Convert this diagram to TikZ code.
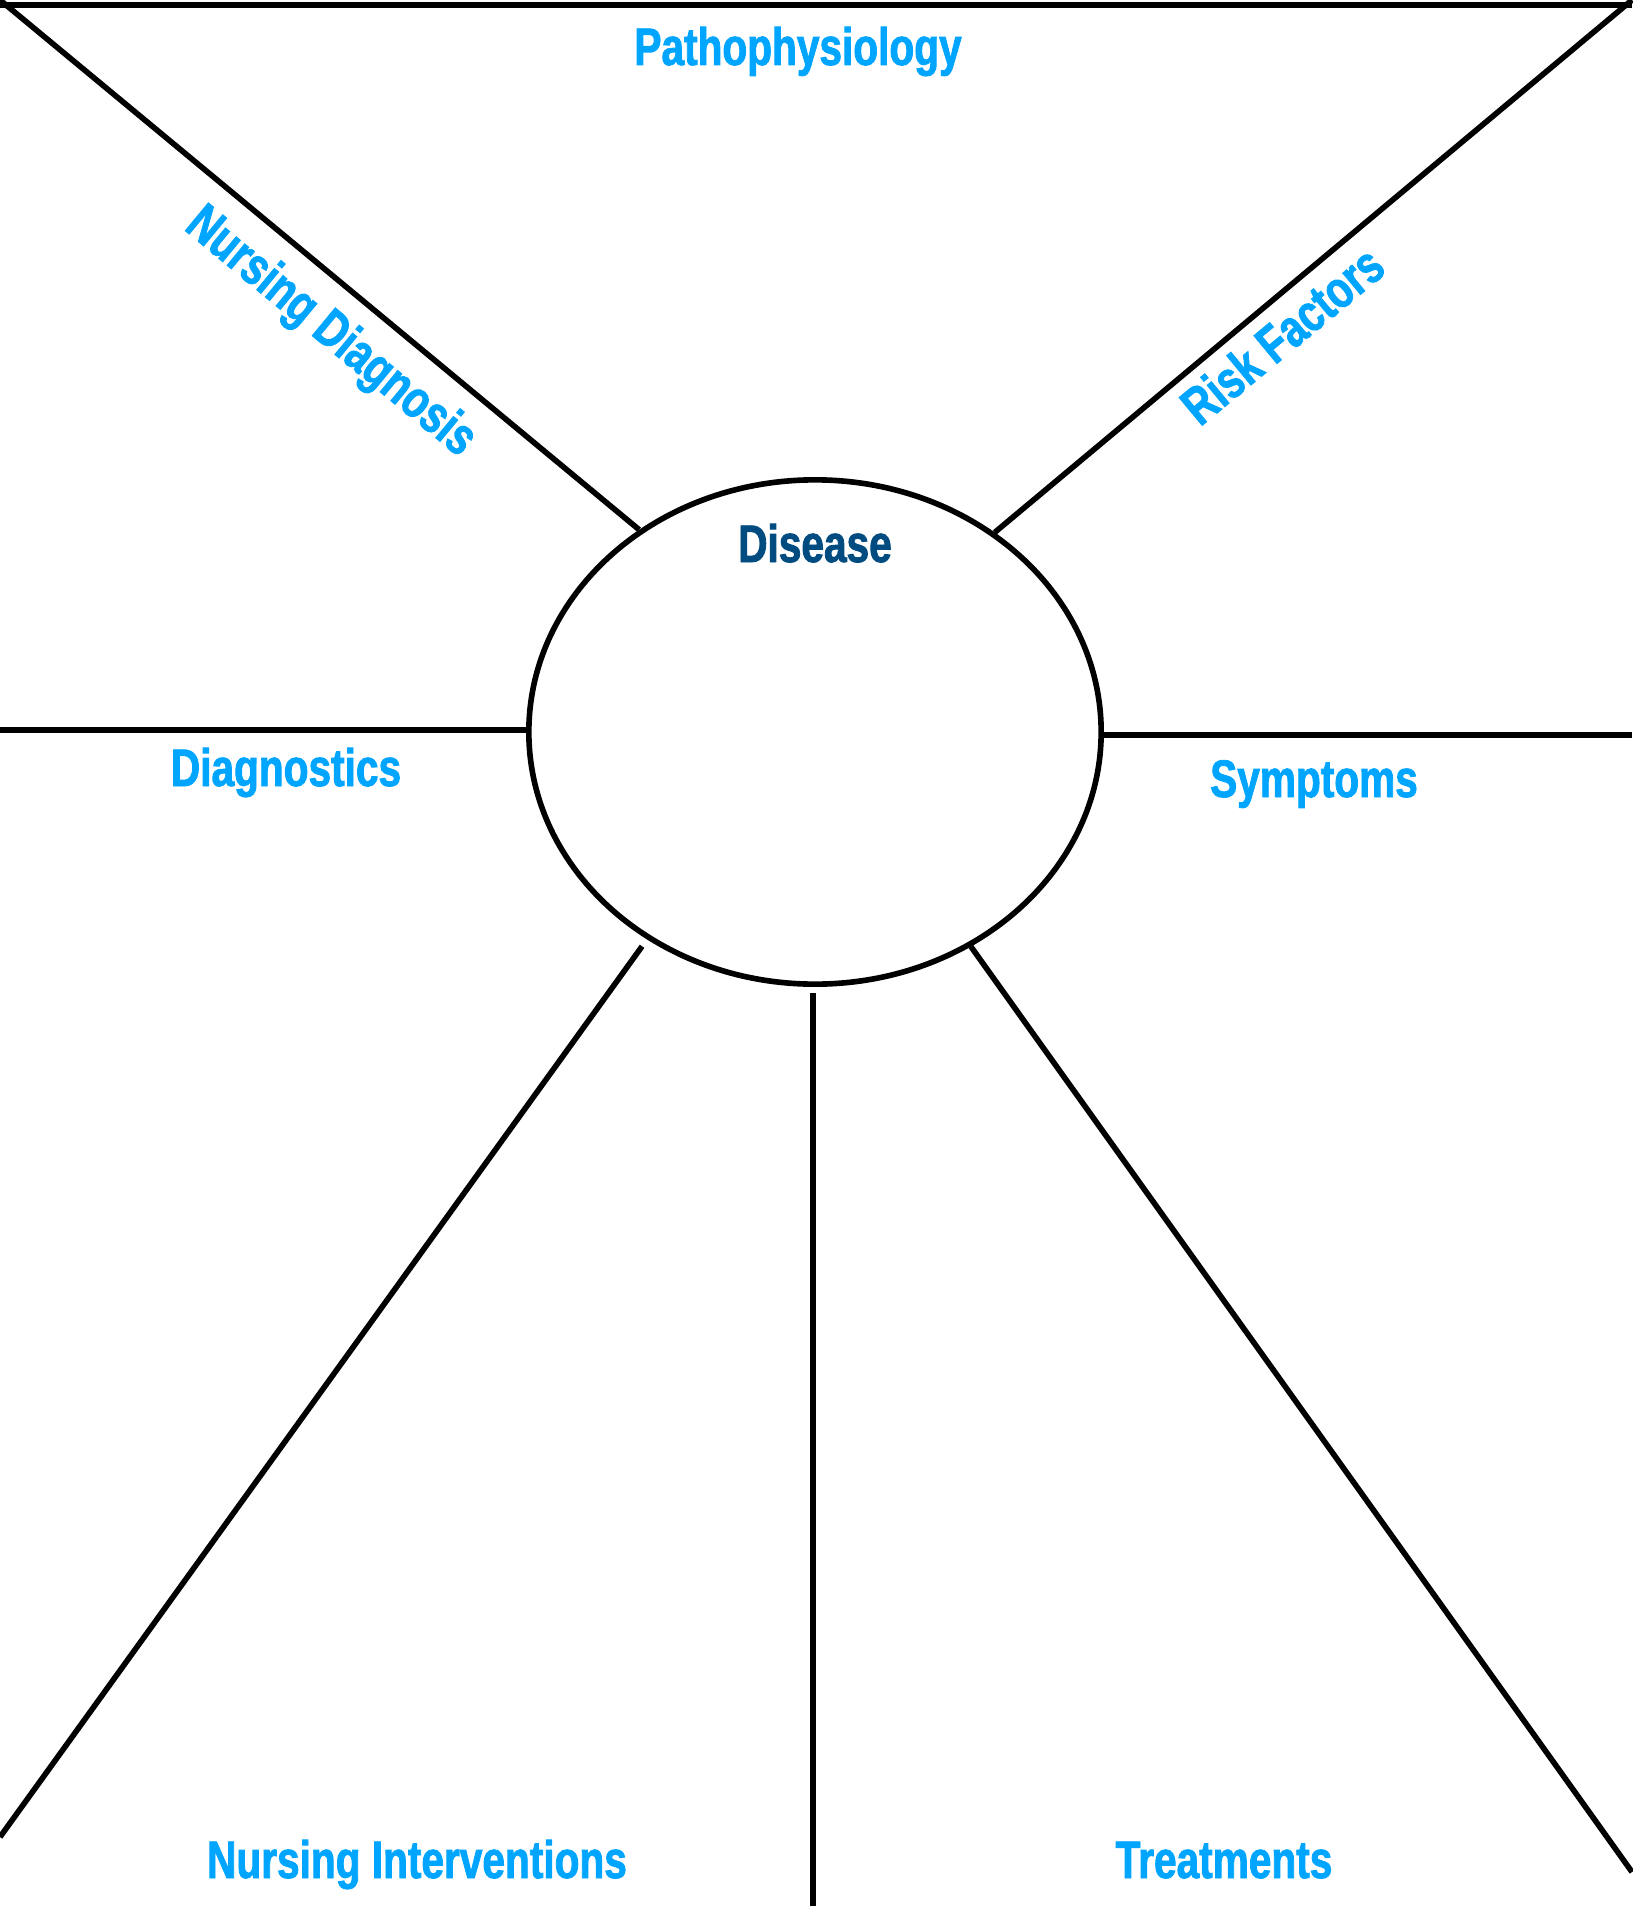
\documentclass[tikz,border=0pt]{standalone}
\usepackage{fontspec}
\setmainfont{Liberation Sans}[FakeStretch=0.77, BoldFeatures={FakeBold=1.6}]
\usetikzlibrary{shapes.geometric, positioning}
\definecolor{headblue}{HTML}{00A5FF}
\definecolor{hubblue}{HTML}{004C80}

\begin{document}
\begin{tikzpicture}[
    x=0.01cm, y=-0.01cm,
    hub/.style={ellipse, draw, line width=1.6pt, minimum width=5.72cm, minimum height=5.04cm, inner sep=0pt},
    spoke/.style={line width=1.6pt},
    heading/.style={text=headblue, font=\bfseries\fontsize{15}{18}\selectfont, inner sep=0pt}
]
\useasboundingbox (0,0) rectangle (1632,1906);

% centre
\node[hub] (disease) at (815,732) {};
\node[heading, text=hubblue, anchor=base] (diseasetext) at (815,562) {Disease};

% free ends of the spokes
\coordinate (topL) at (0,5);
\coordinate (topR) at (1632,5);
\coordinate (cornerL) at (0,0);
\coordinate (cornerR) at (1632,0);
\coordinate (sideL) at (0,730);
\coordinate (sideR) at (1632,735);
\coordinate (footL) at (0,1837);
\coordinate (footM) at (813,1912);
\coordinate (footR) at (1632,1872);

\draw[spoke] (topL) -- (topR);
\draw[spoke] (disease.131) -- (cornerL);
\draw[spoke] (disease.48.6) -- (cornerR);
\draw[spoke] (disease.west |- sideL) -- (sideL);
\draw[spoke] (disease.east |- sideR) -- (sideR);
\draw[spoke, shorten <=2.4pt] (disease.231) -- (footL);
\draw[spoke, shorten <=1.7pt] (disease.south -| footM) -- (footM);
\draw[spoke] (disease.306.6) -- (footR);

% headings
\node[heading, anchor=base] (patho) at (798,65) {Pathophysiology};
\node[heading, rotate=-39.6] (nursediag) at (330,333) {Nursing Diagnosis};
\node[heading, rotate=39.6] (risk) at (1282,335) {Risk Factors};
\node[heading, anchor=base] (diagn) at (286,786) {Diagnostics};
\node[heading, anchor=base] (sympt) at (1314,797) {Symptoms};
\node[heading, anchor=base] (interv) at (417,1878) {Nursing Interventions};
\node[heading, anchor=base] (treat) at (1224,1878) {Treatments};
\end{tikzpicture}
\end{document}
